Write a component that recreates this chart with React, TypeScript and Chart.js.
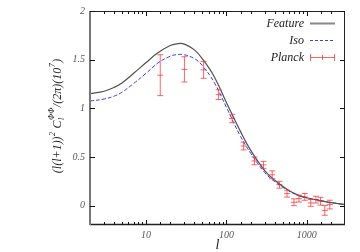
import { useEffect, useRef } from 'react';
import { Chart, registerables } from 'chart.js';

Chart.register(...registerables);

const SERIF = "'Liberation Serif','DejaVu Serif','Times New Roman',serif";

// Theory curves (l, value)
const curveL = [2, 3, 4, 5, 7, 10, 14, 20, 25, 30, 40, 50, 70, 100, 150, 200, 300, 400, 600, 800, 1000, 1500, 2000, 3000];
const featureVals = [1.15, 1.175, 1.215, 1.26, 1.36, 1.47, 1.57, 1.645, 1.665, 1.66, 1.6, 1.51, 1.33, 1.06, 0.76, 0.57, 0.36, 0.26, 0.155, 0.105, 0.08, 0.05, 0.03, 0.01];
const isoVals = [1.075, 1.095, 1.125, 1.165, 1.255, 1.36, 1.465, 1.535, 1.553, 1.55, 1.51, 1.44, 1.27, 1.01, 0.71, 0.54, 0.34, 0.245, 0.15, 0.1, 0.078, 0.05, 0.03, 0.01];

// Planck data with error bars
const planckL = [15, 30, 52, 80, 118, 164, 224, 290, 372, 458, 569, 694, 802, 946, 1122, 1303, 1486, 1680, 1940];
const planckVal = [1.34, 1.4, 1.395, 1.14, 0.895, 0.612, 0.459, 0.418, 0.316, 0.214, 0.122, 0.034, 0.071, 0.089, 0.027, 0.061, 0.044, -0.05, 0.01];
const planckErr = [0.21, 0.13, 0.087, 0.05, 0.043, 0.04, 0.04, 0.036, 0.04, 0.035, 0.035, 0.035, 0.035, 0.035, 0.035, 0.035, 0.04, 0.05, 0.045];

const seriesLabels = ['Feature', 'Iso', 'Planck'];
const xTickLabels = [10, 100, 1000];
const yTickValues = [0, 0.5, 1, 1.5, 2];

const FEATURE_COLOR = '#505050';
const ISO_COLOR = '#3c3cff';
const PLANCK_COLOR = 'rgba(255,50,50,0.75)';

const decorPlugin = {
  id: 'decor',
  afterDatasetsDraw(chart: any) {
    const { ctx, scales } = chart;
    const xs = scales.x, ys = scales.y;
    const area = chart.chartArea;
    ctx.save();
    ctx.beginPath();
    ctx.rect(area.left, area.top, area.right - area.left, area.bottom - area.top);
    ctx.clip();
    ctx.strokeStyle = PLANCK_COLOR;
    ctx.lineWidth = 1;
    for (let i = 0; i < planckL.length; i++) {
      const px = xs.getPixelForValue(planckL[i]);
      const y1 = ys.getPixelForValue(planckVal[i] + planckErr[i]);
      const y2 = ys.getPixelForValue(planckVal[i] - planckErr[i]);
      ctx.beginPath();
      ctx.moveTo(px, y1); ctx.lineTo(px, y2);
      ctx.moveTo(px - 3, y1); ctx.lineTo(px + 3, y1);
      ctx.moveTo(px - 3, y2); ctx.lineTo(px + 3, y2);
      ctx.stroke();
    }
    ctx.restore();
  },
  afterDraw(chart: any) {
    const { ctx, scales } = chart;
    const xs = scales.x, ys = scales.y;
    const a = chart.chartArea;
    ctx.save();
    ctx.strokeStyle = '#222';
    ctx.lineWidth = 1;
    ctx.beginPath();
    ctx.moveTo(a.left, a.top + 0.5); ctx.lineTo(a.right, a.top + 0.5);
    ctx.moveTo(a.right - 0.5, a.top); ctx.lineTo(a.right - 0.5, a.bottom);
    ctx.stroke();
    ctx.lineWidth = 1.5;
    ctx.beginPath();
    ctx.moveTo(a.left, a.bottom - 0.5); ctx.lineTo(a.right, a.bottom - 0.5);
    ctx.stroke();
    ctx.strokeStyle = '#777';
    ctx.lineWidth = 2;
    ctx.beginPath();
    ctx.moveTo(a.left, a.top); ctx.lineTo(a.left, a.bottom);
    ctx.stroke();
    ctx.strokeStyle = '#111';
    ctx.lineWidth = 1;
    ctx.beginPath();
    for (const v of yTickValues) {
      const py = Math.round(ys.getPixelForValue(v)) + 0.5;
      ctx.moveTo(a.left, py); ctx.lineTo(a.left + 5, py);
      ctx.moveTo(a.right, py); ctx.lineTo(a.right - 5, py);
    }
    for (const t of xs.ticks) {
      const v = t.value;
      const lg = Math.log10(v);
      const major = Math.abs(lg - Math.round(lg)) < 1e-6;
      const len = major ? 5 : 3;
      const px = Math.round(xs.getPixelForValue(v)) + 0.5;
      if (px <= a.left + 1 || px >= a.right - 1) continue;
      ctx.moveTo(px, a.bottom); ctx.lineTo(px, a.bottom - len);
      ctx.moveTo(px, a.top); ctx.lineTo(px, a.top + len);
    }
    ctx.stroke();

    ctx.fillStyle = '#222';
    ctx.font = `italic 14px ${SERIF}`;
    ctx.textAlign = 'center';
    ctx.textBaseline = 'alphabetic';
    ctx.fillText('l', (a.left + a.right) / 2, 249);

    ctx.save();
    ctx.translate(61, (a.top + a.bottom) / 2 - 2);
    ctx.rotate(-Math.PI / 2);
    const main = `italic 12px ${SERIF}`;
    const small = `italic 8px ${SERIF}`;
    const segs: any[] = [
      { t: '(l(l+1))', k: 'n' },
      { t: '2', k: 'sup' },
      { t: ' C', k: 'n' },
      { t: 'l', k: 'sub', sup: 'ΦΦ' },
      { t: '/(2π)(10', k: 'n' },
      { t: '7', k: 'sup' },
      { t: ')', k: 'n' },
    ];
    let total = 0;
    for (const s of segs) {
      ctx.font = s.k === 'n' ? main : small;
      let w = ctx.measureText(s.t).width;
      if (s.sup) w = Math.max(w, ctx.measureText(s.sup).width);
      s.w = w + (s.k === 'n' ? 0 : 1);
      total += s.w;
    }
    let cx = -total / 2;
    ctx.textAlign = 'left';
    for (const s of segs) {
      if (s.k === 'n') {
        ctx.font = main;
        ctx.fillText(s.t, cx, 0);
      } else if (s.k === 'sup') {
        ctx.font = small;
        ctx.fillText(s.t, cx + 0.5, -6);
      } else {
        ctx.font = small;
        ctx.fillText(s.t, cx + 0.5, 3);
        if (s.sup) ctx.fillText(s.sup, cx + 0.5, -7);
      }
      cx += s.w;
    }
    ctx.restore();

    const ds = chart.data.datasets;
    ctx.font = `italic 12px ${SERIF}`;
    ctx.textAlign = 'right';
    ctx.textBaseline = 'middle';
    for (let i = 0; i < ds.length; i++) {
      const ly = 23 + 17 * i;
      ctx.fillStyle = '#222';
      ctx.fillText(ds[i].label, 304, ly + 1);
      const x1 = 310, x2 = 335;
      ctx.beginPath();
      if (i === 0) {
        ctx.strokeStyle = '#888';
        ctx.lineWidth = 2;
        ctx.setLineDash([]);
        ctx.moveTo(x1, ly + 0.5); ctx.lineTo(x2, ly + 0.5);
        ctx.stroke();
      } else if (i === 1) {
        ctx.strokeStyle = ISO_COLOR;
        ctx.lineWidth = 1;
        ctx.setLineDash([3, 2]);
        ctx.moveTo(x1, ly + 0.5); ctx.lineTo(x2, ly + 0.5);
        ctx.stroke();
        ctx.setLineDash([]);
      } else {
        ctx.strokeStyle = PLANCK_COLOR;
        ctx.lineWidth = 1;
        ctx.moveTo(x1, ly + 0.5); ctx.lineTo(x2, ly + 0.5);
        ctx.moveTo(x1 + 0.5, ly - 3); ctx.lineTo(x1 + 0.5, ly + 4);
        ctx.moveTo(x2 - 0.5, ly - 3); ctx.lineTo(x2 - 0.5, ly + 4);
        ctx.moveTo((x1 + x2) / 2, ly - 2); ctx.lineTo((x1 + x2) / 2, ly + 3);
        ctx.stroke();
      }
    }
    ctx.restore();
  },
};

export default function App() {
  const ref = useRef<HTMLCanvasElement>(null);
  useEffect(() => {
    const canvas = ref.current!;
    const chart = new Chart(canvas, {
      type: 'scatter',
      data: {
        datasets: [
          {
            label: seriesLabels[0],
            data: curveL.map((l, i) => ({ x: l, y: featureVals[i] })),
            showLine: true,
            borderColor: FEATURE_COLOR,
            borderWidth: 1.2,
            pointRadius: 0,
            tension: 0.4,
          },
          {
            label: seriesLabels[1],
            data: curveL.map((l, i) => ({ x: l, y: isoVals[i] })),
            showLine: true,
            borderColor: ISO_COLOR,
            borderDash: [4, 2],
            borderWidth: 1,
            pointRadius: 0,
            tension: 0.4,
          },
          {
            label: seriesLabels[2],
            data: planckL.map((l, i) => ({ x: l, y: planckVal[i] })),
            showLine: false,
            pointStyle: 'line',
            pointRadius: 3,
            borderColor: PLANCK_COLOR,
            borderWidth: 1,
          },
        ] as any,
      },
      options: {
        responsive: false,
        animation: false,
        devicePixelRatio: 1,
        layout: { padding: { top: 10, right: 15, left: 0, bottom: 0 } },
        plugins: { legend: { display: false }, tooltip: { enabled: false } },
        scales: {
          x: {
            type: 'logarithmic',
            min: 2,
            max: 3000,
            grid: { display: false, drawTicks: false },
            border: { display: false },
            afterFit: (s: any) => { s.height = 27; },
            ticks: {
              autoSkip: false,
              maxRotation: 0,
              padding: 4,
              color: '#555',
              font: { family: SERIF, style: 'italic', size: 10 },
              callback: (v: any) => (xTickLabels.includes(Number(v)) ? String(v) : ''),
            },
          },
          y: {
            type: 'linear',
            min: -0.2,
            max: 2,
            grid: { display: false, drawTicks: false },
            border: { display: false },
            afterFit: (s: any) => { s.width = 90; },
            ticks: {
              stepSize: 0.5,
              includeBounds: false,
              padding: 5,
              color: '#555',
              font: { family: SERIF, style: 'italic', size: 10 },
              callback: (v: any) => (yTickValues.includes(Number(v)) ? String(v) : ''),
            },
          },
        },
      } as any,
      plugins: [decorPlugin],
    });
    return () => chart.destroy();
  }, []);
  return (
    <div style={{ position: 'absolute', left: 0, top: 0, width: 360, height: 252, background: '#fff' }}>
      <canvas ref={ref} width={360} height={252} style={{ display: 'block' }} />
    </div>
  );
}
